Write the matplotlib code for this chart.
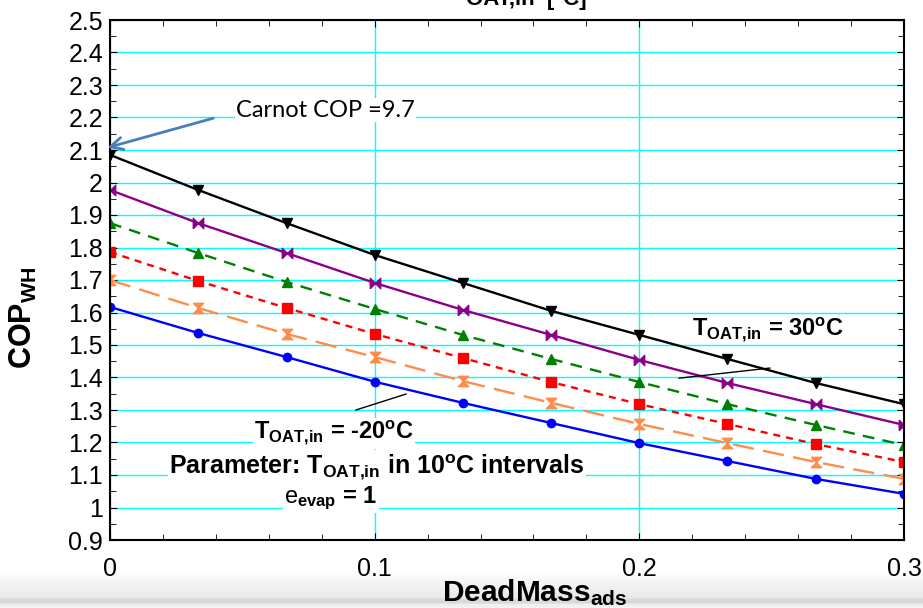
"""COP_WH vs adsorber dead mass, parameter T_OAT,in."""
import numpy as np
import matplotlib
matplotlib.use("Agg")
import matplotlib.pyplot as plt
from matplotlib.ticker import MultipleLocator, FormatStrFormatter

plt.rcParams['font.family'] = ['Liberation Sans', 'DejaVu Sans']
plt.rcParams['mathtext.fontset'] = 'custom'
plt.rcParams['mathtext.rm'] = 'Liberation Sans'
plt.rcParams['mathtext.bf'] = 'Liberation Sans:bold'
plt.rcParams['mathtext.it'] = 'Liberation Sans:italic'
plt.rcParams['mathtext.default'] = 'bf'

# data
dead_mass = [0.0, 0.0333, 0.0667, 0.1, 0.1333, 0.1667, 0.2, 0.2333, 0.2667, 0.3]
cop_30 = [2.085, 1.977, 1.875, 1.777, 1.691, 1.605, 1.531, 1.457, 1.383, 1.318]
cop_20 = [1.977, 1.875, 1.783, 1.691, 1.608, 1.531, 1.454, 1.383, 1.318, 1.254]
cop_10 = [1.875, 1.783, 1.694, 1.611, 1.531, 1.457, 1.386, 1.318, 1.254, 1.192]
cop_0 = [1.786, 1.697, 1.614, 1.534, 1.460, 1.386, 1.318, 1.257, 1.195, 1.140]
cop_m10 = [1.700, 1.614, 1.534, 1.463, 1.389, 1.322, 1.257, 1.198, 1.140, 1.088]
cop_m20 = [1.617, 1.537, 1.463, 1.387, 1.322, 1.260, 1.198, 1.143, 1.088, 1.042]
carnot_cop = 2.105

bowtie = [(-1, -1), (-1, 1), (1, -1), (1, 1), (-1, -1)]
hourglass = [(-1, 1), (1, 1), (-1, -1), (1, -1), (-1, 1)]

fig = plt.figure(figsize=(9.23, 6.08), dpi=100)

# grey shading strip at the bottom
band = fig.add_axes([0, 0, 1, 38 / 608])
rows = np.arange(38)
shade = np.interp(rows, [0, 8, 20, 27, 29, 32, 34, 37],
                  [1.0, 0.97, 0.93, 0.91, 0.85, 0.85, 0.93, 0.95])
band.imshow(np.tile(shade[::-1, None], (1, 10)), cmap='gray', vmin=0, vmax=1,
            aspect='auto', origin='lower', extent=[0, 1, 0, 1])
band.axis('off')

ax = fig.add_axes([110 / 923, 1 - 540 / 608, 794 / 923, 520 / 608])

ax.plot(dead_mass, cop_30, color='black', lw=1.7, marker='v', ms=7.5)
ax.plot(dead_mass, cop_20, color='#8b008b', lw=1.7, marker=bowtie, ms=7.5)
ax.plot(dead_mass, cop_10, color='#008000', lw=1.7, ls=(0, (5, 3.5)),
        marker='^', ms=7.5)
ax.plot(dead_mass, cop_0, color='#ff0000', lw=1.7, ls=(0, (3, 2.5)),
        marker='s', ms=6.5)
ax.plot(dead_mass, cop_m10, color='#ff8c4a', lw=1.7, ls=(0, (9, 4)),
        marker=hourglass, ms=7.5)
ax.plot(dead_mass, cop_m20, color='#0000ff', lw=1.7, marker='o', ms=6)

ax.set_xlim(0, 0.3)
ax.set_ylim(0.9, 2.5)
ax.xaxis.set_major_locator(MultipleLocator(0.1))
ax.xaxis.set_minor_locator(MultipleLocator(0.02))
ax.yaxis.set_major_locator(MultipleLocator(0.1))
ax.yaxis.set_minor_locator(MultipleLocator(0.05))
ax.xaxis.set_major_formatter(FormatStrFormatter('%g'))
ax.yaxis.set_major_formatter(FormatStrFormatter('%g'))
ax.tick_params(which='both', direction='in', top=True, right=True)
ax.tick_params(which='major', length=5, labelsize=18)
ax.tick_params(which='minor', length=4)
ax.tick_params(axis='x', pad=12)
ax.tick_params(axis='y', pad=5)
ax.grid(True, which='major', color='#00ffff', lw=1)
ax.set_axisbelow(True)
for s in ax.spines.values():
    s.set_linewidth(1.5)

ax.set_xlabel('DeadMass$_{ads}$', fontsize=21.5, fontweight='bold')
ax.xaxis.set_label_coords(0.535, -0.072)
ax.set_ylabel('COP$_{WH}$', fontsize=22, fontweight='bold')
ax.yaxis.set_label_coords(-0.09, 0.427)

white = dict(facecolor='white', edgecolor='none', pad=1)

ax.annotate('', xy=(-0.002, carnot_cop), xytext=(0.04, 2.2),
            arrowprops=dict(arrowstyle='->', color='#4a7ebb', lw=2,
                            mutation_scale=22),
            annotation_clip=False)
ax.text(0.0476, 2.223, 'Carnot COP =9.7', fontsize=17, family='Lato',
        va='center', ha='left', bbox=white)

ax.text(0.2486, 1.546, r'T$_{OAT{,}in}$ = 30$^{o}$C', fontsize=17,
        fontweight='bold', ha='center', va='center')
ax.plot([0.215, 0.2493], [1.398, 1.429], color='black', lw=1)

ax.text(0.0846, 1.229, r'T$_{OAT{,}in}$ = -20$^{o}$C', fontsize=17,
        fontweight='bold', ha='center', va='center', bbox=white)
ax.plot([0.0929, 0.1118], [1.30, 1.349], color='black', lw=1)
ax.text(0.1009, 1.125, r'Parameter: T$_{OAT{,}in}$ in 10$^{o}$C intervals',
        fontsize=18, fontweight='bold', ha='center', va='center', bbox=white)
ax.text(0.0835, 1.029, r'$\mathrm{e}_{evap}$ = 1', fontsize=17,
        fontweight='bold', ha='center', va='center', bbox=white)

fig.text(0.57, 1 - 5 / 608, 'OAT,in  [°C]', fontsize=16, fontweight='bold',
         ha='center', va='baseline')

fig.savefig('out.png', dpi=100)
